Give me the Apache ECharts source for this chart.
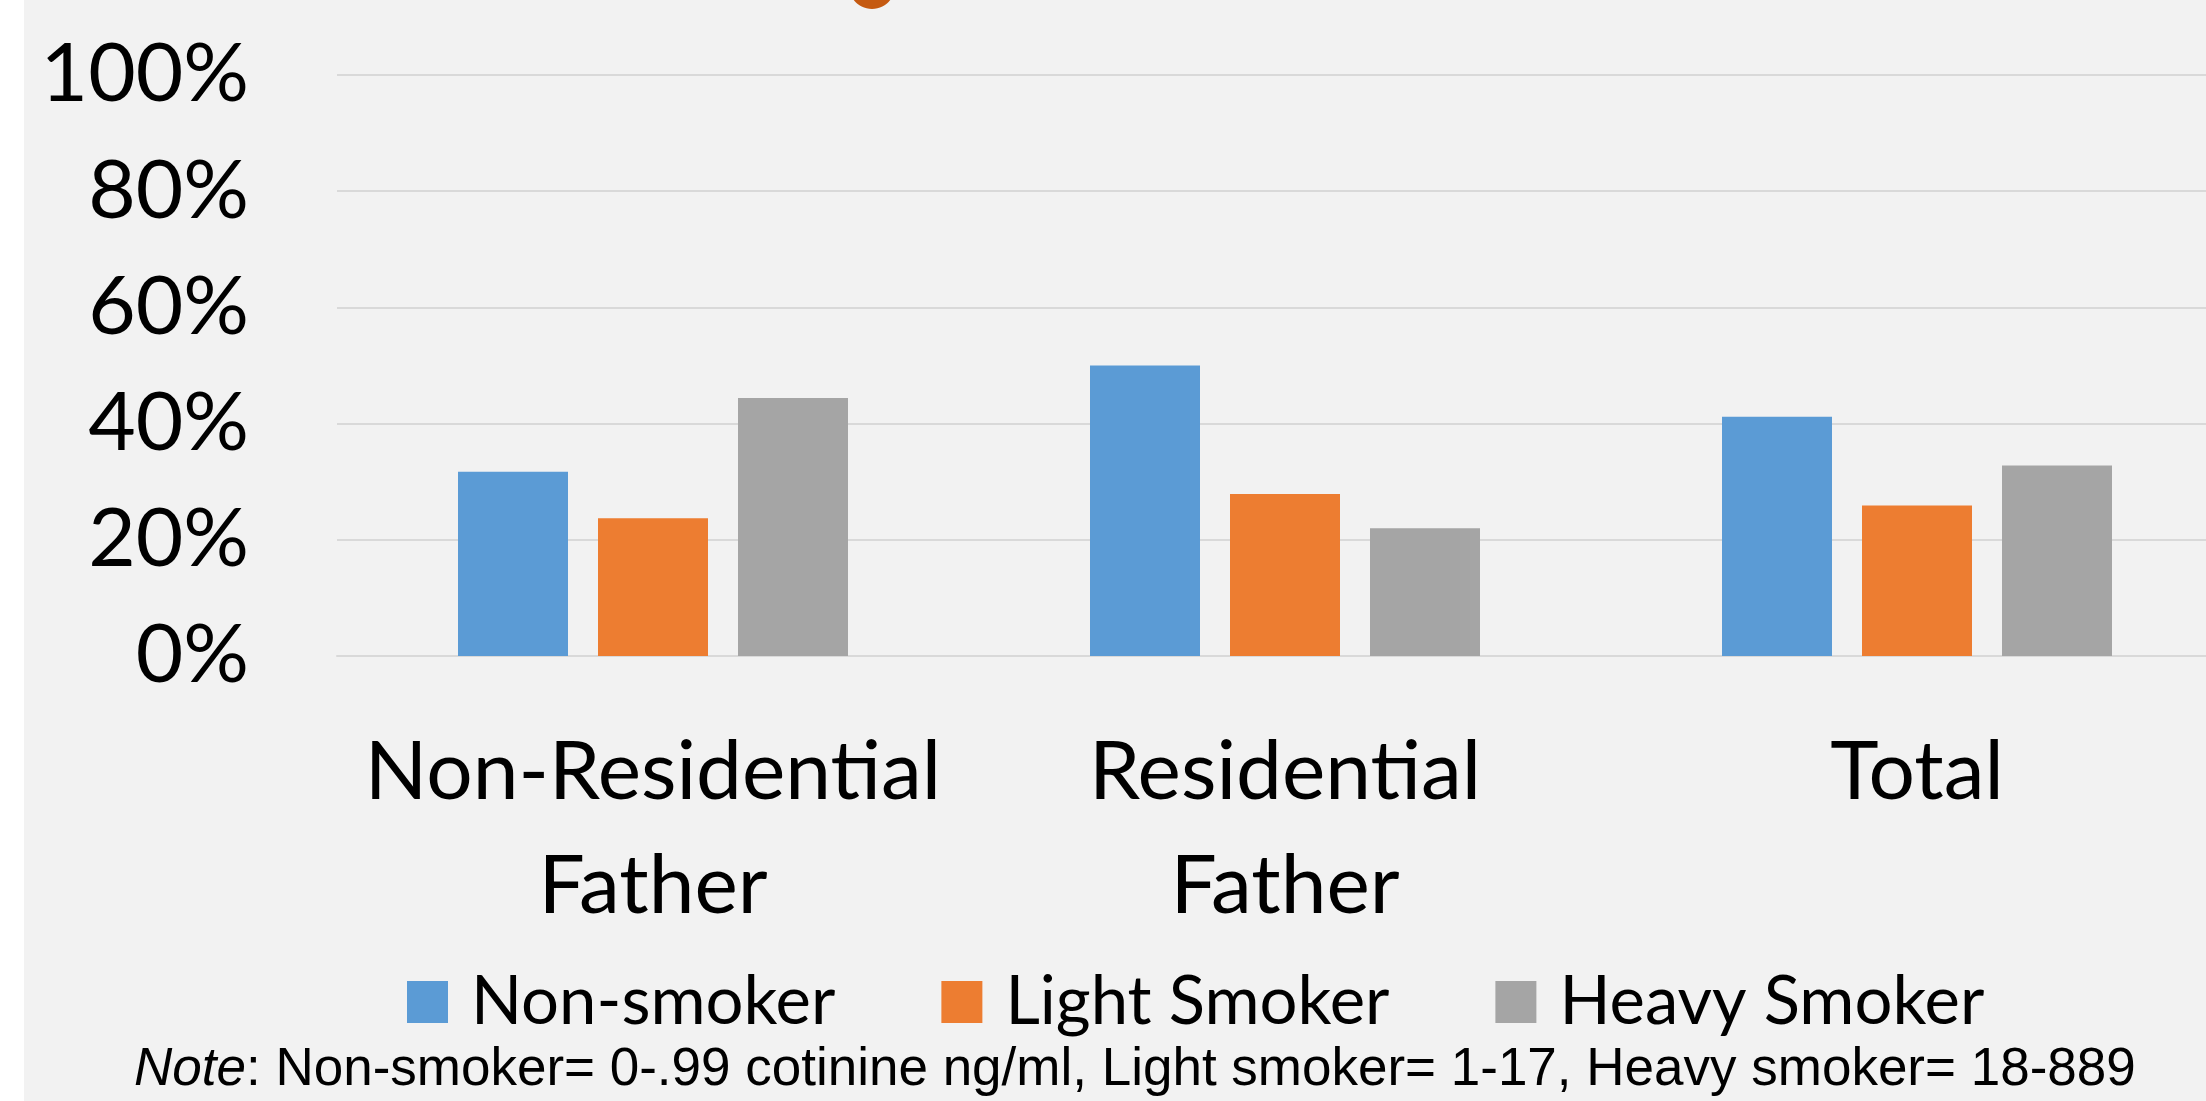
<!DOCTYPE html>
<html>
<head>
<meta charset="utf-8">
<script src="https://cdn.jsdelivr.net/npm/echarts@6/dist/echarts.min.js"></script>
<style>
  html, body { margin: 0; padding: 0; background: #ffffff; overflow: hidden; }
  /* the plot runs past the right edge in the original, so the chart is a bit wider than the window */
  #chart { width: 2240px; height: 1101px; }
</style>
</head>
<body>
<div id="chart"></div>
<script>
// data
var categories = ['Non-Residential\nFather', 'Residential\nFather', 'Total'];
var seriesNames = ['Non-smoker', 'Light Smoker', 'Heavy Smoker'];
var nonSmoker = [31.7, 50.0, 41.2];
var lightSmoker = [23.7, 27.9, 25.9];
var heavySmoker = [44.4, 22.0, 32.8];
var yTicks = [0, 20, 40, 60, 80, 100];
var noteText = '{i|Note}: Non-smoker= 0-.99 cotinine ng/ml, Light smoker= 1-17, Heavy smoker= 18-889';

var colors = ['#5b9bd5', '#ed7d31', '#a5a5a5'];
var bigFont = 'Lato';

var myChart = echarts.init(document.getElementById('chart'));

function barSeries(name, data, i) {
  return {
    name: name,
    type: 'bar',
    data: data,
    barWidth: 110,
    barGap: '27.27%',
    itemStyle: { color: colors[i] }
  };
}

var option = {
  backgroundColor: '#f2f2f2',
  animation: false,
  graphic: [
    // white strip on the left edge
    { type: 'rect', left: 0, top: 0, shape: { width: 24, height: 1101 }, style: { fill: '#ffffff' }, silent: true },
    // bottom of the cut-off title
    { type: 'ellipse', shape: { cx: 872, cy: -14, rx: 23, ry: 23 }, style: { fill: '#c55a11' }, silent: true },
    {
      type: 'text',
      x: 134,
      y: 1070,
      style: {
        text: noteText,
        fontFamily: 'Liberation Sans',
        fontSize: 53,
        fill: '#000000',
        verticalAlign: 'middle',
        rich: { i: { fontStyle: 'italic', fontFamily: 'Liberation Sans', fontSize: 53 } }
      }
    }
  ],
  legend: {
    left: 402,
    top: 963,
    itemWidth: 41,
    itemHeight: 42,
    itemGap: 106,
    icon: 'rect',
    data: seriesNames,
    textStyle: { fontFamily: bigFont, fontSize: 67, lineHeight: 68, color: '#000', padding: [0, 0, 0, 18] }
  },
  grid: { left: 337, top: 75, width: 1896, height: 581, containLabel: false },
  xAxis: {
    type: 'category',
    data: categories,
    axisLine: { lineStyle: { color: '#d9d9d9', width: 2 } },
    axisTick: { show: false },
    axisLabel: {
      fontFamily: bigFont,
      fontSize: 82,
      lineHeight: 114,
      color: '#000',
      margin: 60,
      interval: 0
    }
  },
  yAxis: {
    type: 'value',
    min: yTicks[0],
    max: yTicks[yTicks.length - 1],
    interval: 20,
    axisLine: { show: false },
    axisTick: { show: false },
    splitLine: { lineStyle: { color: '#d9d9d9', width: 2 } },
    axisLabel: {
      formatter: '{value}%',
      fontFamily: bigFont,
      fontSize: 82,
      color: '#000',
      margin: 88
    }
  },
  series: [
    barSeries(seriesNames[0], nonSmoker, 0),
    barSeries(seriesNames[1], lightSmoker, 1),
    barSeries(seriesNames[2], heavySmoker, 2)
  ]
};

myChart.setOption(option);
</script>
</body>
</html>
